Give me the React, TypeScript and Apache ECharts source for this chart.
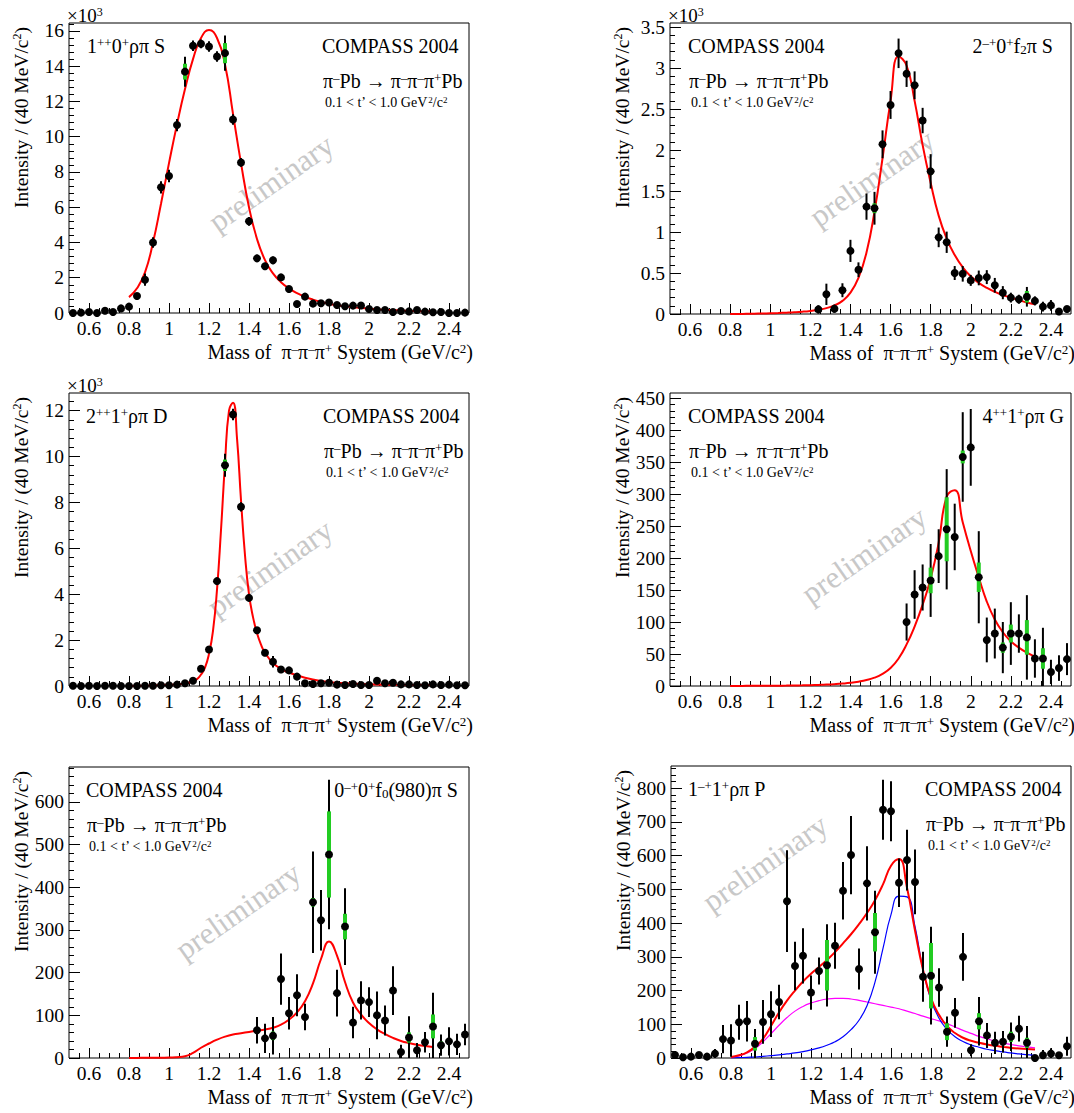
import React, { useEffect, useRef } from "react";
import * as echarts from "echarts";

const FONT = '"Liberation Serif", "Times New Roman", Times, serif';
const RED = "#ff0000";
const BLUE = "#0000ff";
const MAGENTA = "#ff00ff";
const GREEN = "#22cc22";

// ---------------- data ----------------
const massBins = [
  0.52, 0.56, 0.6, 0.64, 0.68, 0.72, 0.76, 0.8, 0.84, 0.88, 0.92, 0.96,
  1.0, 1.04, 1.08, 1.12, 1.16, 1.2, 1.24, 1.28, 1.32, 1.36, 1.4, 1.44, 1.48, 1.52, 1.56, 1.6, 1.64, 1.68, 1.72, 1.76, 1.8, 1.84, 1.88, 1.92, 1.96,
  2.0, 2.04, 2.08, 2.12, 2.16, 2.2, 2.24, 2.28, 2.32, 2.36, 2.4, 2.44, 2.48,
];
const xMajorTicks = [0.6, 0.8, 1, 1.2, 1.4, 1.6, 1.8, 2, 2.2, 2.4];

// mass points at which the fitted curves were read (0.80 ... 2.32)
const fitMass = [
  0.8, 0.84, 0.88, 0.92, 0.96, 1.0, 1.04, 1.08, 1.12, 1.16, 1.2, 1.24, 1.28, 1.32, 1.36, 1.4, 1.44, 1.48, 1.52, 1.56,
  1.6, 1.64, 1.68, 1.72, 1.76, 1.8, 1.84, 1.88, 1.92, 1.96, 2.0, 2.04, 2.08, 2.12, 2.16, 2.2, 2.24, 2.28, 2.32,
];

// Panel 1: 1++0+ rho pi S  (x10^3)
const p1Values = [
  0.0, 0.02, 0.06, 0.0, 0.13, 0.06, 0.26, 0.36, 0.96, 1.89, 4.0, 7.13,
  7.77, 10.66, 13.69, 15.16, 15.27, 15.12, 14.55, 14.74, 10.98, 8.54, 5.2, 3.1, 2.65, 2.99, 2.02, 1.36, 0.51, 0.93, 0.53, 0.55, 0.6, 0.45, 0.38, 0.42, 0.43,
  0.23, 0.17, 0.17, 0.06, 0.11, 0.09, 0.17, 0.08, 0.04, 0.06, 0.0, 0.0, 0.02,
];
const p1Errors = [
  0.05, 0.05, 0.15, 0.05, 0.1, 0.06, 0.1, 0.2, 0.12, 0.35, 0.3, 0.35,
  0.35, 0.35, 0.85, 0.3, 0.25, 0.3, 0.3, 1.0, 0.3, 0.25, 0.25, 0.2, 0.2, 0.22, 0.15, 0.1, 0.08, 0.1, 0.08, 0.08, 0.1, 0.06, 0.06, 0.06, 0.06,
  0.06, 0.05, 0.05, 0.05, 0.05, 0.05, 0.05, 0.05, 0.04, 0.04, 0.04, 0.04, 0.04,
];
const p1SysMass = [1.08, 1.28];
const p1Sys = [0.45, 0.57];
const p1FitValues = [
  0.9, 1.4, 2.3, 4.0, 6.2, 8.5, 10.7, 12.7, 14.4, 15.6, 16.05, 15.6, 14.1, 11.3, 8.5, 6.0, 4.2, 3.0, 2.25, 1.75,
  1.4, 1.13, 0.92, 0.76, 0.63, 0.52, 0.44, 0.38, 0.33, 0.28, 0.24, 0.21, 0.18, 0.16, 0.14, 0.12, 0.11, 0.1, 0.09,
];
const p1YTicks = [0, 2, 4, 6, 8, 10, 12, 14, 16];

// Panel 2: 2-+0+ f2 pi S  (x10^3)
const p2Values = [
  null, null, null, null, null, null, null, null, null, null, null, null,
  null, null, null, null, null, null, 0.056, 0.24, 0.065, 0.29, 0.77, 0.54, 1.31, 1.29, 2.07, 2.55, 3.18, 2.93, 2.79, 2.36, 1.74, 0.935, 0.875, 0.5, 0.49,
  0.41, 0.44, 0.45, 0.35, 0.26, 0.2, 0.18, 0.21, 0.16, 0.09, 0.105, 0.03, 0.06,
];
const p2Errors = [
  null, null, null, null, null, null, null, null, null, null, null, null,
  null, null, null, null, null, null, 0.05, 0.13, 0.05, 0.085, 0.135, 0.09, 0.16, 0.2, 0.17, 0.17, 0.18, 0.16, 0.17, 0.155, 0.21, 0.12, 0.13, 0.085, 0.095,
  0.067, 0.09, 0.085, 0.09, 0.08, 0.06, 0.055, 0.12, 0.055, 0.06, 0.065, 0.02, 0.025,
];
const p2SysMass = [1.52, 1.8, 2.28];
const p2Sys = [0.06, 0.04, 0.07];
const p2FitValues = [
  0.0, 0.0, 0.002, 0.004, 0.006, 0.009, 0.012, 0.016, 0.021, 0.028, 0.038, 0.052, 0.072, 0.105, 0.16, 0.26, 0.44, 0.75, 1.25, 1.9,
  2.6, 3.14, 3.03, 2.6, 2.06, 1.6, 1.2, 0.92, 0.72, 0.57, 0.46, 0.38, 0.32, 0.27, 0.23, 0.2, 0.17, 0.14, 0.12,
];
const p2YTicks = [0, 0.5, 1, 1.5, 2, 2.5, 3, 3.5];

// Panel 3: 2++1+ rho pi D  (x10^3)
const p3Values = [
  0.01, 0.0, 0.01, 0.0, 0.01, 0.01, 0.0, 0.0, 0.0, 0.01, 0.01, 0.03,
  0.03, 0.06, 0.12, 0.23, 0.75, 1.59, 4.57, 9.62, 11.83, 7.81, 3.84, 2.43, 1.45, 1.06, 0.72, 0.68, 0.41, 0.12, 0.09, 0.12, 0.14, 0.06, 0.04, 0.09, 0.04,
  0.04, 0.23, 0.12, 0.14, 0.07, 0.07, 0.04, 0.03, 0.07, 0.04, 0.06, 0.03, 0.03,
];
const p3Errors = [
  0.03, 0.03, 0.08, 0.03, 0.03, 0.03, 0.03, 0.08, 0.03, 0.03, 0.03, 0.03,
  0.04, 0.04, 0.06, 0.06, 0.08, 0.1, 0.15, 0.5, 0.25, 0.2, 0.15, 0.12, 0.12, 0.25, 0.08, 0.08, 0.06, 0.04, 0.05, 0.05, 0.08, 0.04, 0.04, 0.04, 0.04,
  0.04, 0.06, 0.05, 0.05, 0.04, 0.04, 0.04, 0.04, 0.04, 0.04, 0.08, 0.04, 0.04,
];
const p3SysMass = [1.28];
const p3Sys = [0.25];
const p3FitMass = [
  0.8, 0.9, 1.0, 1.06, 1.1, 1.14, 1.16, 1.18, 1.2, 1.22, 1.24, 1.26, 1.28, 1.3, 1.32, 1.34, 1.36, 1.38, 1.4, 1.42,
  1.44, 1.46, 1.48, 1.52, 1.56, 1.6, 1.68, 1.76, 1.86, 2.0, 2.16, 2.32,
];
const p3FitValues = [
  0.0, 0.02, 0.05, 0.09, 0.15, 0.3, 0.5, 0.8, 1.4, 2.4, 4.2, 6.8, 9.7, 12.0, 12.35, 10.8, 8.1, 5.7, 4.0, 3.0,
  2.3, 1.8, 1.45, 1.0, 0.75, 0.58, 0.36, 0.22, 0.13, 0.08, 0.05, 0.04,
];
const p3YTicks = [0, 2, 4, 6, 8, 10, 12];

// Panel 4: 4++1+ rho pi G
const p4Values = [
  null, null, null, null, null, null, null, null, null, null, null, null,
  null, null, null, null, null, null, null, null, null, null, null, null, null, null, null, null, null, 100, 143, 154, 165, 203, 245, 233, 358,
  373, 170, 72, 82, 60, 82, 82, 76, 43, 43, 22, 28, 42,
];
const p4Errors = [
  null, null, null, null, null, null, null, null, null, null, null, null,
  null, null, null, null, null, null, null, null, null, null, null, null, null, null, null, null, null, 29, 38, 36, 57, 42, 94, 52, 70,
  60, 72, 35, 39, 40, 49, 30, 66, 30, 48, 19, 20, 25,
];
const p4SysMass = [1.8, 1.88, 1.96, 2.04, 2.16, 2.2, 2.28, 2.36];
const p4Sys = [20, 50, 10, 23, 8, 14, 27, 16];
const p4FitValues = [
  0.1, 0.15, 0.2, 0.25, 0.3, 0.4, 0.5, 0.6, 0.8, 1.0, 1.3, 1.7, 2.2, 2.9, 3.8, 5.0, 6.8, 9.3, 13, 19,
  28, 43, 65, 93, 127, 168, 224, 296, 306, 256, 211, 170, 132, 104, 84, 70, 60, 52, 46,
];
const p4YTicks = [0, 50, 100, 150, 200, 250, 300, 350, 400, 450];

// Panel 5: 0-+0+ f0(980) pi S
const p5Values = [
  null, null, null, null, null, null, null, null, null, null, null, null,
  null, null, null, null, null, null, null, null, null, null, null, 65, 46, 52, 185, 105, 147, 96, 365, 323, 477, 152, 308, 83, 135,
  131, 100, 88, 158, 14, 48, 18, 37, 74, 30, 39, 32, 55,
];
const p5Errors = [
  null, null, null, null, null, null, null, null, null, null, null, null,
  null, null, null, null, null, null, null, null, null, null, null, 31, 34, 44, 60, 38, 49, 31, 119, 71, 175, 55, 90, 37, 45,
  35, 56, 35, 57, 17, 50, 17, 24, 79, 25, 33, 25, 25,
];
const p5SysMass = [1.52, 1.72, 1.8, 1.88, 2.2, 2.32, 2.36];
const p5Sys = [10, 10, 101, 30, 12, 28, 9];
const p5FitValues = [
  0, 0.2, 0.4, 0.6, 0.8, 1.0, 2, 4, 12, 24, 34, 43, 50, 55, 58, 61, 64, 67, 71, 78,
  90, 107, 133, 175, 232, 273, 240, 178, 130, 102, 82, 67, 56, 47, 40, 35, 31, 28, 26,
];
const p5YTicks = [0, 100, 200, 300, 400, 500, 600];

// Panel 6: 1-+1+ rho pi P
const p6Values = [
  9, 2, 4, 9, 4, 13, 56, 52, 106, 109, 42, 107,
  130, 166, 465, 273, 303, 194, 258, 275, 333, 496, 602, 264, 518, 373, 736, 732, 520, 587, 522, 241, 244, 209, 78, 134, 300,
  23, 109, 67, 45, 48, 63, 87, 45, 0, 8, 13, 8, 35,
];
const p6Errors = [
  5, 4, 5, 9, 5, 14, 42, 48, 52, 60, 44, 65,
  68, 51, 151, 72, 82, 51, 40, 122, 68, 85, 116, 61, 110, 123, 89, 89, 72, 90, 96, 74, 145, 57, 45, 44, 71,
  18, 72, 37, 33, 32, 42, 38, 50, 5, 16, 16, 8, 28,
];
const p6SysMass = [0.92, 1.08, 1.28, 1.52, 1.8, 1.88, 2.04, 2.2, 2.28];
const p6Sys = [20, 10, 75, 57, 97, 25, 24, 15, 15];
const p6TotalValues = [
  3, 8, 17, 33, 57, 95, 135, 170, 200, 227, 250, 270, 291, 314, 340, 367, 397, 430, 468, 515,
  570, 590, 505, 378, 262, 178, 128, 95, 74, 60, 51, 45, 40, 36, 33, 30, 28, 27, 25,
];
const p6ResValues = [
  0, 1, 2, 3, 5, 7, 9, 12, 15, 19, 24, 30, 38, 48, 63, 84, 112, 155, 225, 325,
  425, 480, 478, 390, 262, 172, 118, 85, 63, 49, 39, 32, 26, 22, 18, 15, 12, 10, 8,
];
const p6BkgValues = [
  0, 6, 15, 28, 48, 72, 97, 120, 139, 153, 163, 170, 175, 177, 177, 175, 171, 166, 161, 156,
  151, 146, 139, 132, 124, 117, 110, 102, 92, 82, 73, 64, 57, 50, 45, 40, 36, 33, 30,
];
const p6YTicks = [0, 100, 200, 300, 400, 500, 600, 700, 800];

// ---------------- texts ----------------
const waveLabels = [
  "1{sup|++}0{sup|+}ρπ S",
  "2{sup|–+}0{sup|+}f{sub|2}π S",
  "2{sup|++}1{sup|+}ρπ D",
  "4{sup|++}1{sup|+}ρπ G",
  "0{sup|–+}0{sup|+}f{sub|0}(980)π S",
  "1{sup|–+}1{sup|+}ρπ P",
];
const expLabel = "COMPASS 2004";
const reactionLabel = "π{sup|–}Pb → π{sup|–}π{sup|–}π{sup|+}Pb";
const tLabel = "0.1 < t’ < 1.0 GeV{sup|2}/c{sup|2}";
const yTitle = "Intensity / (40 MeV/c{sup|2})";
const xTitle = "Mass of  π{sup|–}π{sup|–}π{sup|+} System (GeV/c{sup|2})";
const scaleLabel = "×10{sup|3}";
const watermark = "preliminary";

// ---------------- layout ----------------
const layouts = [
  { left: 69, top: 23, width: 400, height: 290, ymax: 16.45, minorStep: 0.4, compassLeft: false, waveX: 87, compassX: 322, scaled: true, wmX: 271, wmY: 183 },
  { left: 670, top: 23, width: 401, height: 291, ymax: 3.55, minorStep: 0.1, compassLeft: true, waveX: 1053, compassX: 688, scaled: true, wmX: 872, wmY: 178 },
  { left: 69, top: 393, width: 400, height: 293, ymax: 12.77, minorStep: 0.4, compassLeft: false, waveX: 86, compassX: 323, scaled: true, wmX: 270, wmY: 568 },
  { left: 670, top: 393, width: 401, height: 293, ymax: 458, minorStep: 10, compassLeft: true, waveX: 1064, compassX: 688, scaled: false, wmX: 864, wmY: 555 },
  { left: 69, top: 767, width: 400, height: 291, ymax: 682, minorStep: 20, compassLeft: true, waveX: 458, compassX: 86, scaled: false, wmX: 238, wmY: 911 },
  { left: 671, top: 766, width: 400, height: 292, ymax: 866, minorStep: 20, compassLeft: false, waveX: 688, compassX: 925, scaled: false, wmX: 765, wmY: 863 },
];

const panelData = [
  { values: p1Values, errors: p1Errors, sysMass: p1SysMass, sys: p1Sys, yTicks: p1YTicks, fits: [{ mass: fitMass, values: p1FitValues, color: RED, width: 2 }] },
  { values: p2Values, errors: p2Errors, sysMass: p2SysMass, sys: p2Sys, yTicks: p2YTicks, fits: [{ mass: fitMass, values: p2FitValues, color: RED, width: 2 }] },
  { values: p3Values, errors: p3Errors, sysMass: p3SysMass, sys: p3Sys, yTicks: p3YTicks, fits: [{ mass: p3FitMass, values: p3FitValues, color: RED, width: 2 }] },
  { values: p4Values, errors: p4Errors, sysMass: p4SysMass, sys: p4Sys, yTicks: p4YTicks, fits: [{ mass: fitMass, values: p4FitValues, color: RED, width: 2 }] },
  { values: p5Values, errors: p5Errors, sysMass: p5SysMass, sys: p5Sys, yTicks: p5YTicks, fits: [{ mass: fitMass, values: p5FitValues, color: RED, width: 2 }] },
  {
    values: p6Values, errors: p6Errors, sysMass: p6SysMass, sys: p6Sys, yTicks: p6YTicks,
    fits: [
      { mass: fitMass, values: p6BkgValues, color: MAGENTA, width: 1.2 },
      { mass: fitMass, values: p6ResValues, color: BLUE, width: 1.2 },
      { mass: fitMass, values: p6TotalValues, color: RED, width: 2 },
    ],
  },
];

const r6 = (v: number) => Math.round(v * 1e6) / 1e6;

function richFor(fs: number) {
  const s = Math.round(fs * 0.64);
  return {
    sup: { fontSize: s, fontFamily: FONT, fill: "#000", verticalAlign: "top" },
    sub: { fontSize: s, fontFamily: FONT, fill: "#000", verticalAlign: "bottom" },
  };
}

function textEl(x: number, y: number, text: string, fs: number, align: string, extra: any = {}) {
  return {
    type: "text",
    x,
    y,
    silent: true,
    z: 100,
    ...extra,
    style: {
      text,
      fontFamily: FONT,
      fontSize: fs,
      fill: "#000",
      align,
      verticalAlign: "middle",
      rich: richFor(fs),
    },
  };
}

function buildOption() {
  const grid: any[] = [];
  const xAxis: any[] = [];
  const yAxis: any[] = [];
  const series: any[] = [];
  const graphic: any[] = [];

  const xMinor: number[] = [];
  for (let k = 11; k < 50; k++) xMinor.push(r6(k * 0.05));

  layouts.forEach((L, i) => {
    const d = panelData[i];
    grid.push({
      left: L.left, top: L.top, width: L.width, height: L.height,
      show: true, borderColor: "#000", borderWidth: 1, backgroundColor: "rgba(0,0,0,0)",
    });
    const yMinor: number[] = [];
    for (let k = 1; k * L.minorStep < L.ymax; k++) yMinor.push(r6(k * L.minorStep));

    const baseX = { type: "value", gridIndex: i, min: 0.5, max: 2.5, position: "bottom", splitLine: { show: false }, axisLine: { show: false } };
    xAxis.push({
      ...baseX,
      axisTick: { show: true, inside: true, length: 5, customValues: xMinor, lineStyle: { color: "#000", width: 1 } },
      axisLabel: { show: false },
    });
    xAxis.push({
      ...baseX,
      axisTick: { show: true, inside: true, length: 10, customValues: xMajorTicks, lineStyle: { color: "#000", width: 1 } },
      axisLabel: { show: true, customValues: xMajorTicks, fontFamily: FONT, fontSize: 19.5, color: "#000", margin: 5, formatter: (v: number) => String(v) },
    });
    const baseY = { type: "value", gridIndex: i, min: 0, max: L.ymax, position: "left", splitLine: { show: false }, axisLine: { show: false } };
    yAxis.push({
      ...baseY,
      axisTick: { show: true, inside: true, length: 5, customValues: yMinor, lineStyle: { color: "#000", width: 1 } },
      axisLabel: { show: false },
    });
    yAxis.push({
      ...baseY,
      axisTick: { show: true, inside: true, length: 11, customValues: d.yTicks, lineStyle: { color: "#000", width: 1 } },
      axisLabel: { show: true, customValues: d.yTicks, fontFamily: FONT, fontSize: 19.5, color: "#000", margin: 5, formatter: (v: number) => String(v) },
    });

    const xi = 2 * i;
    const yi = 2 * i;
    const ymax = L.ymax;

    d.fits.forEach((f: any) => {
      series.push({
        type: "line", xAxisIndex: xi, yAxisIndex: yi, silent: true,
        data: f.mass.map((m: number, k: number) => [m, f.values[k]]),
        smooth: 0.5, showSymbol: false, symbol: "none",
        lineStyle: { color: f.color, width: f.width }, z: 2,
      });
    });

    const pts: number[][] = [];
    const errs: number[][] = [];
    massBins.forEach((m, k) => {
      const v = d.values[k];
      if (v === null || v === undefined) return;
      pts.push([m, v]);
      errs.push([m, v, d.errors[k] as number]);
    });
    const sysPts = d.sysMass.map((m: number, k: number) => [m, d.values[massBins.indexOf(m)] as number, d.sys[k]]);

    series.push({
      type: "custom", xAxisIndex: xi, yAxisIndex: yi, silent: true, z: 3,
      data: errs,
      renderItem: (_p: any, api: any) => {
        const x = api.value(0), y = api.value(1), e = api.value(2);
        const lo = api.coord([x, Math.max(y - e, 0)]);
        const hi = api.coord([x, Math.min(y + e, ymax)]);
        return { type: "line", shape: { x1: lo[0], y1: lo[1], x2: hi[0], y2: hi[1] }, style: { stroke: "#000", lineWidth: 2 } };
      },
    });
    series.push({
      type: "custom", xAxisIndex: xi, yAxisIndex: yi, silent: true, z: 4,
      data: sysPts,
      renderItem: (_p: any, api: any) => {
        const x = api.value(0), y = api.value(1), e = api.value(2);
        const lo = api.coord([x, Math.max(y - e, 0)]);
        const hi = api.coord([x, Math.min(y + e, ymax)]);
        return { type: "rect", shape: { x: hi[0] - 2, y: hi[1], width: 4, height: lo[1] - hi[1] }, style: { fill: GREEN } };
      },
    });
    series.push({
      type: "scatter", xAxisIndex: xi, yAxisIndex: yi, silent: true, z: 5,
      data: pts, symbol: "circle", symbolSize: 8, itemStyle: { color: "#000", opacity: 1 },
    });

    // texts
    const rowY = L.top + 23;
    const reacY = L.top + 58;
    const tY = L.top + 79;
    graphic.push(textEl(L.waveX, rowY, waveLabels[i], 20, L.compassLeft ? "right" : "left"));
    graphic.push(textEl(L.compassX, rowY, expLabel, 20, "left"));
    graphic.push(textEl(L.compassX + 1, reacY, reactionLabel, 20, "left"));
    graphic.push(textEl(L.compassX + 3, tY, tLabel, 14, "left"));
    if (L.scaled) graphic.push(textEl(L.left - 2, L.top - 8, scaleLabel, 19, "left"));
    graphic.push(textEl(L.left - 48, L.top + 4, yTitle, 19.5, "right", { rotation: Math.PI / 2 }));
    graphic.push(textEl(L.left + L.width + 4, L.top + L.height + 39, xTitle, 20, "right"));
    graphic.push({
      type: "text", x: L.wmX, y: L.wmY, rotation: 0.61, silent: true, z: 1,
      style: { text: watermark, fontFamily: FONT, fontSize: 31, fill: "#c8c8c8", align: "center", verticalAlign: "middle" },
    });
  });

  return {
    animation: false,
    backgroundColor: "#ffffff",
    grid,
    xAxis,
    yAxis,
    series,
    graphic,
  };
}

export default function App() {
  const ref = useRef<HTMLDivElement>(null);
  useEffect(() => {
    const chart = echarts.init(ref.current as HTMLDivElement, null, { renderer: "svg" });
    chart.setOption(buildOption() as any);
    return () => chart.dispose();
  }, []);
  return (
    <div
      ref={ref}
      style={{ position: "absolute", left: 0, top: 0, width: 1074, height: 1113, background: "#fff" }}
    />
  );
}
